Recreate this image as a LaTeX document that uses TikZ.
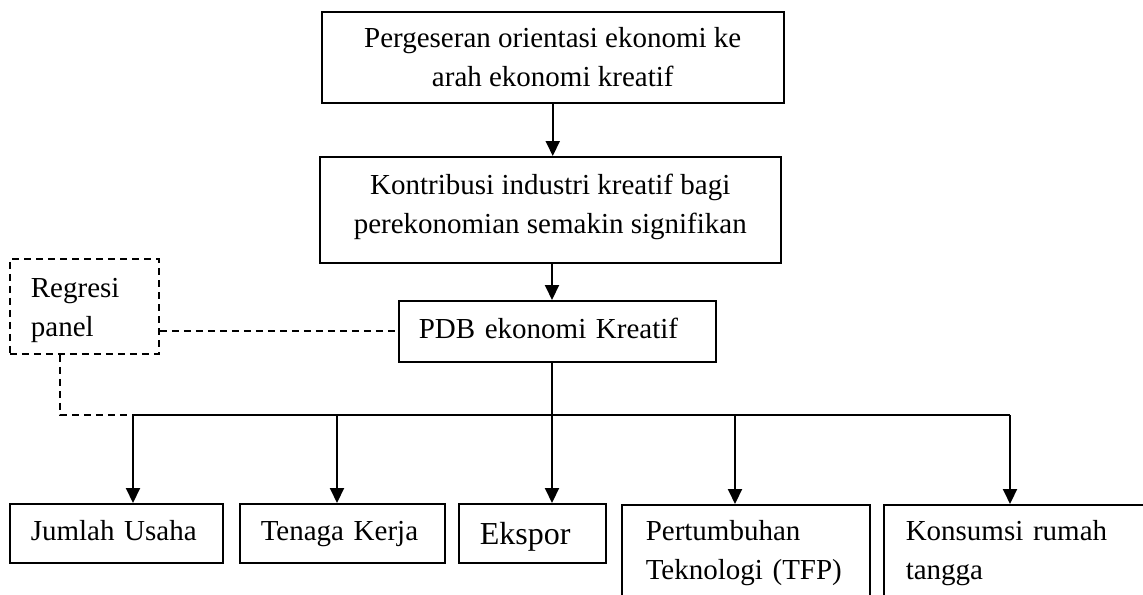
\documentclass[tikz,border=0pt]{standalone}
\usepackage{fontspec}
\setmainfont{Liberation Serif}
\usetikzlibrary{arrows.meta}
\begin{document}
\begin{tikzpicture}[x=0.5pt,y=-0.5pt,
kotak/.style={draw,line width=0.75pt,anchor=north west,inner sep=0pt,font=\fontsize{14.5}{19.5}\selectfont},
satu/.style={kotak,align=left,text height=10pt,text depth=3pt},
panah/.style={line width=1pt,-{Triangle[length=7.5pt,width=7pt]}},
putus/.style={line width=0.9pt,dash pattern=on 3.5pt off 2.5pt}]
\useasboundingbox (0,0) rectangle (1143,594);
\clip (0,0) rectangle (1143,594);
\node[kotak,align=center,minimum width=231pt,minimum height=45.5pt] (orientasi) at (321,11) {Pergeseran orientasi ekonomi ke\\arah ekonomi kreatif};
\node[kotak,align=center,minimum width=230.5pt,minimum height=53pt,text depth=6.4pt] (kontribusi) at (319,156) {Kontribusi industri kreatif bagi\\perekonomian semakin signifikan};
\node[satu,inner xsep=10pt,text width=138.5pt,minimum height=30.5pt] (pdb) at (398,300) {PDB ekonomi Kreatif};
\node[kotak,putus,align=left,inner xsep=10.5pt,text width=53.5pt,minimum height=47.5pt,text depth=18.4pt] (regresi) at (9,258) {Regresi\\panel};
\node[satu,inner xsep=10.5pt,text width=85.5pt,minimum height=29.5pt] (usaha) at (9,503) {Jumlah Usaha};
\node[satu,inner xsep=10.5pt,text width=81.5pt,minimum height=29.5pt] (tenaga) at (239,503) {Tenaga Kerja};
\node[satu,font=\fontsize{16}{19.5}\selectfont,text height=11pt,text depth=0pt,inner xsep=10.5pt,text width=52.5pt,minimum height=29.5pt] (ekspor) at (458,503) {Ekspor};
\node[kotak,align=left,inner xsep=12pt,inner ysep=8pt,text width=100pt] (tfp) at (621,504) {Pertumbuhan\\Teknologi (TFP)};
\node[kotak,align=left,inner xsep=11pt,inner ysep=8pt,text width=116.5pt] (konsumsi) at (883,504) {Konsumsi rumah\\tangga};
\coordinate (c1) at (133,415);
\coordinate (c2) at (337,415);
\coordinate (c3) at (552,415);
\coordinate (c4) at (735,415);
\coordinate (c5) at (1010,415);
\draw[panah] (orientasi.south) -- (kontribusi.north -| orientasi.south);
\draw[panah] (kontribusi.south -| c3) -- (pdb.north -| c3);
\draw[line width=1pt] (c1) -- (c5);
\draw[panah] (pdb.south -| c3) -- (c3 |- ekspor.north);
\draw[panah] (c1) -- (c1 |- usaha.north);
\draw[panah] (c2) -- (c2 |- tenaga.north);
\draw[panah] (c4) -- (c4 |- tfp.north);
\draw[panah] (c5) -- (c5 |- konsumsi.north);
\draw[putus] (regresi.east |- pdb.west) -- (pdb.west);
\draw[putus] ([xshift=25.5pt]regresi.south west) |- (c1);
\end{tikzpicture}
\end{document}
